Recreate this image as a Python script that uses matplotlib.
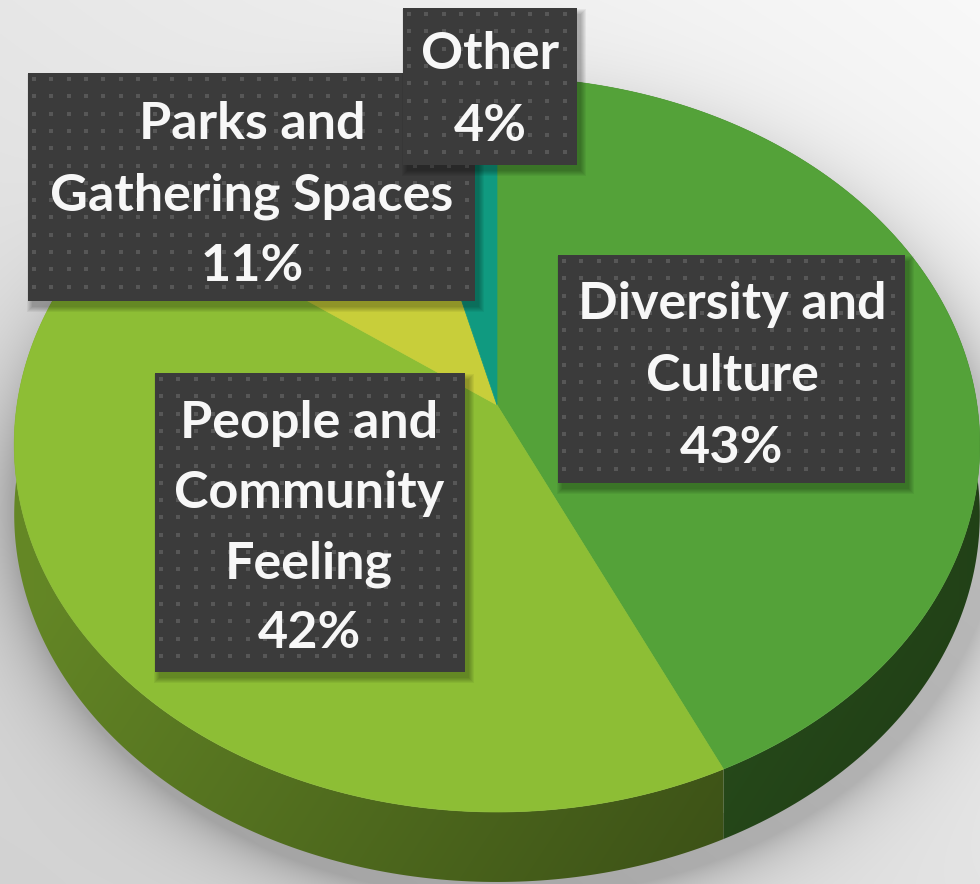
import numpy as np
import matplotlib.pyplot as plt
from matplotlib.colors import to_rgb
from matplotlib.patches import Polygon, Rectangle

# data
labels = ['Diversity and\nCulture', 'People and\nCommunity\nFeeling', 'Parks and\nGathering Spaces', 'Other']
shares = [43, 42, 11, 4]
colors = ['#54a239', '#8dbe35', '#c8ce3a', '#109a80']

# label boxes (x0, y0, x1, y1), text centre x, first baseline, line pitch
boxes = [(558, 255, 905, 483, 732, 319, 72),
         (155, 373, 465, 672, 309, 438, 70),
         (28, 73, 475, 301, 252, 139, 71),
         (403, 8, 577, 165, 490, 69, 72)]

W, H = 980, 884
CX, A = 497, 480
CY, Q, K = 405, -319.7, 0.1075
DEPTH = 70


def proj(theta, drop=0.0):
    t = np.radians(theta)
    u, v = np.cos(t), np.sin(t)
    w = 1 + K * v
    return CX + A * u / w, (CY + Q * v) / w + drop


fig = plt.figure(figsize=(W / 100, H / 100), dpi=100)
ax = fig.add_axes([0, 0, 1, 1])
ax.set_xlim(0, W)
ax.set_ylim(H, 0)
ax.axis('off')

# background with soft shadow under the pie
yy, xx = np.mgrid[0:H, 0:W]
bg = 0.975 - 0.08 * (yy / H) - 0.07 * (1 - xx / W)
rho = np.sqrt(((xx - CX - 8) / 494) ** 2 + ((yy - 505) / 392) ** 2)
d = np.clip((rho - 1) * 400, 0, None)
bg = bg - 0.2 * np.exp(-d / 28) * (rho > 0.9)
ax.imshow(np.dstack([bg] * 3), extent=(0, W, H, 0), zorder=0, interpolation='bilinear')

# angles of slices, clockwise from top
bounds = 90 - np.concatenate([[0], np.cumsum(shares)]) / sum(shares) * 360

# side wall, shaded from left to right
shade = 0.72 - 0.32 * (xx / W) - 0.06 * np.clip((yy - 600) / 280, 0, 1)
for i in range(len(shares)):
    th = np.linspace(bounds[i], bounds[i + 1], 200)
    tx_, ty_ = proj(th)
    pts = np.column_stack([np.r_[tx_, tx_[::-1]], np.r_[ty_, ty_[::-1] + DEPTH]])
    wall = Polygon(pts, closed=True, facecolor='none', edgecolor='none')
    ax.add_patch(wall)
    img = np.clip(shade[..., None] * np.array(to_rgb(colors[i])), 0, 1)
    im = ax.imshow(img, extent=(0, W, H, 0), zorder=1 + (ty_.max() / H), interpolation='bilinear')
    im.set_clip_path(wall)

# top surface
for i in range(len(shares)):
    th = np.linspace(bounds[i], bounds[i + 1], 200)
    px, py = proj(th)
    pts = np.column_stack([np.r_[CX, px], np.r_[CY, py]])
    ax.add_patch(Polygon(pts, closed=True, facecolor=colors[i], edgecolor=colors[i], lw=0.5, zorder=3))

# label boxes
for i, (x0, y0, x1, y1, tx, tb, pitch) in enumerate(boxes):
    z = 5 + i
    for k in range(6):
        ax.add_patch(Rectangle((x0 + 4 - k, y0 + 6 - k), x1 - x0 + 2 * k, y1 - y0 + 2 * k,
                               facecolor='black', edgecolor='none', alpha=0.05, zorder=z))
    rect = Rectangle((x0, y0), x1 - x0, y1 - y0, facecolor='#3b3b3b', edgecolor='none', zorder=z + 0.1)
    ax.add_patch(rect)
    gx, gy = np.meshgrid(np.arange(x0 + 6, x1, 17.3), np.arange(y0 + 6, y1, 17.3))
    dots = ax.scatter(gx.ravel(), gy.ravel(), s=5, marker='s', color='#575757', lw=0, zorder=z + 0.2)
    dots.set_clip_path(rect)
    lines = (labels[i] + '\n' + f'{shares[i]}%').split('\n')
    for j, line in enumerate(lines):
        ax.text(tx, tb + j * pitch, line, ha='center', va='baseline', color='#f7f7f7',
                fontsize=37.5, fontweight='bold', family=['Lato', 'DejaVu Sans'], zorder=z + 0.3)

fig.savefig('out.png', dpi=100)
